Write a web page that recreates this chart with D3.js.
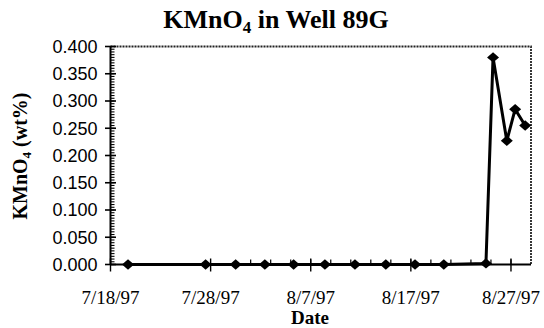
<!DOCTYPE html>
<html>
<head>
<meta charset="utf-8">
<script src="https://cdn.jsdelivr.net/npm/d3@7"></script>
<style>
  html, body { margin: 0; padding: 0; background: #fff; }
  svg { display: block; }
</style>
</head>
<body>
<svg id="chart" width="544" height="328"></svg>
<script>
// ---- data ----
const dates = [
  "1997-07-19T18:00", "1997-07-27T12:00", "1997-07-30T12:00", "1997-08-02T10:00",
  "1997-08-05T07:00", "1997-08-08T10:00", "1997-08-11T10:00", "1997-08-14T12:00",
  "1997-08-17T10:00", "1997-08-20T07:00", "1997-08-24T12:00", "1997-08-25T05:00",
  "1997-08-26T14:00", "1997-08-27T10:00", "1997-08-28T10:00"
];
const values = [
  0.000, 0.000, 0.000, 0.000,
  0.000, 0.000, 0.000, 0.000,
  0.000, 0.000, 0.002, 0.380,
  0.227, 0.285, 0.255
];
const xTickDates = ["1997-07-18", "1997-07-28", "1997-08-07", "1997-08-17", "1997-08-27"];
const xTickLabels = ["7/18/97", "7/28/97", "8/7/97", "8/17/97", "8/27/97"];
const yTicks = [0, 0.05, 0.10, 0.15, 0.20, 0.25, 0.30, 0.35, 0.40];
const xDomain = ["1997-07-18", "1997-08-29"];
const yDomain = [0, 0.4];

// ---- setup ----
const parse = d3.timeParse("%Y-%m-%dT%H:%M");
const parseDay = d3.timeParse("%Y-%m-%d");
const pts = dates.map((d, i) => ({ t: parse(d), v: values[i] }));

const svg = d3.select("#chart");
const x = d3.scaleTime().domain(xDomain.map(parseDay)).range([110.5, 531]);
const y = d3.scaleLinear().domain(yDomain).range([264.5, 46.5]);

// frame (top + right)
svg.append("path")
  .attr("d", `M${x.range()[0]},${y(0.4)}H${x.range()[1]}V${y(0)}`)
  .attr("fill", "none").attr("stroke", "#222").attr("stroke-width", 1.8)
  .attr("stroke-dasharray", "2,1");

// left axis
const yMinor = d3.range(0, 0.4001, 0.005);
const yAxisG = svg.append("g").attr("transform", `translate(${x.range()[0]},0)`);
yAxisG.append("line").attr("y1", y(0)).attr("y2", y(0.4)).attr("stroke", "#000").attr("stroke-width", 2);
yAxisG.selectAll(".ymin").data(yMinor).join("line")
  .attr("x1", 0).attr("x2", 4).attr("y1", d => y(d)).attr("y2", d => y(d))
  .attr("stroke", "#000").attr("stroke-width", 1.1);
yAxisG.selectAll(".ymaj").data(yTicks).join("line")
  .attr("x1", -5.5).attr("x2", 5.5).attr("y1", d => y(d)).attr("y2", d => y(d))
  .attr("stroke", "#000").attr("stroke-width", 1.6);
yAxisG.selectAll(".ylab").data(yTicks).join("text")
  .attr("x", -13).attr("y", d => y(d)).attr("dy", "0.36em")
  .attr("text-anchor", "end")
  .attr("font-family", "Liberation Sans, Arial, sans-serif").attr("font-size", 18)
  .attr("fill", "#000")
  .text(d => d3.format(".3f")(d));

// bottom axis
const xMinor = d3.timeDay.every(2).range(parseDay("1997-07-18"), parseDay("1997-08-29"))
  .filter(d => d3.timeDay.count(parseDay("1997-07-18"), d) % 2 === 0);
const xAxisG = svg.append("g").attr("transform", `translate(0,${y(0)})`);
xAxisG.append("line").attr("x1", x.range()[0]).attr("x2", x.range()[1]).attr("stroke", "#000").attr("stroke-width", 2);
xAxisG.selectAll(".xmin").data(xMinor).join("line")
  .attr("x1", d => x(d)).attr("x2", d => x(d)).attr("y1", 0).attr("y2", -5)
  .attr("stroke", "#000").attr("stroke-width", 1.2);
xAxisG.selectAll(".xmaj").data(xTickDates.map(parseDay)).join("line")
  .attr("x1", d => x(d)).attr("x2", d => x(d)).attr("y1", -6).attr("y2", 7)
  .attr("stroke", "#000").attr("stroke-width", 1.4);
xAxisG.selectAll(".xlab").data(xTickDates.map(parseDay)).join("text")
  .attr("x", d => x(d)).attr("y", 39)
  .attr("text-anchor", "middle")
  .attr("font-family", "Liberation Serif, Times New Roman, serif").attr("font-size", 19)
  .attr("fill", "#000")
  .text((d, i) => xTickLabels[i]);

// line
svg.append("path").datum(pts)
  .attr("d", d3.line().x(d => x(d.t)).y(d => y(d.v)))
  .attr("fill", "none").attr("stroke", "#000").attr("stroke-width", 3)
  .attr("stroke-linejoin", "round");

// markers (diamonds)
svg.selectAll(".mk").data(pts).join("path")
  .attr("transform", d => `translate(${x(d.t)},${y(d.v)})`)
  .attr("d", "M-6,0L0,-5.2L6,0L0,5.2Z")
  .attr("fill", "#000");

// title
const title = svg.append("text")
  .attr("x", 276).attr("y", 28).attr("text-anchor", "middle")
  .attr("font-family", "Liberation Serif, Times New Roman, serif")
  .attr("font-weight", "bold").attr("font-size", 26).attr("fill", "#000");
title.append("tspan").text("KMnO");
title.append("tspan").attr("font-size", 17).attr("dy", 5).text("4");
title.append("tspan").attr("dy", -5).text(" in Well 89G");

// y label
const yl = svg.append("text")
  .attr("transform", "translate(27,156) rotate(-90)")
  .attr("text-anchor", "middle")
  .attr("font-family", "Liberation Serif, Times New Roman, serif")
  .attr("font-weight", "bold").attr("font-size", 20).attr("fill", "#000");
yl.append("tspan").text("KMnO");
yl.append("tspan").attr("font-size", 13).attr("dy", 4).text("4");
yl.append("tspan").attr("dy", -4).text(" (wt%)");

// x label
svg.append("text")
  .attr("x", 310).attr("y", 324).attr("text-anchor", "middle")
  .attr("font-family", "Liberation Serif, Times New Roman, serif")
  .attr("font-weight", "bold").attr("font-size", 19).attr("fill", "#000")
  .text("Date");
</script>
</body>
</html>
